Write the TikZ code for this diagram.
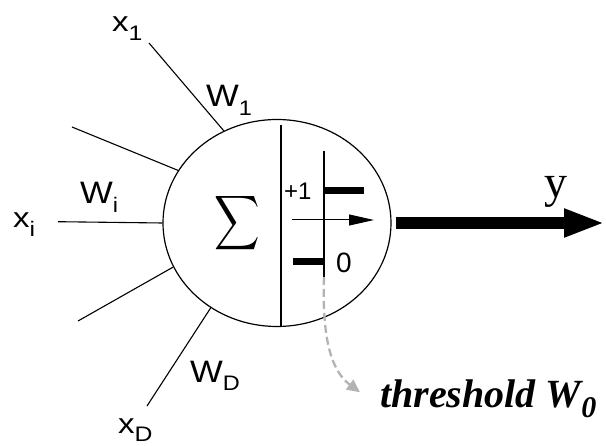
\documentclass[tikz,border=0pt]{standalone}
\usepackage{fontspec}
\setmainfont{Liberation Serif}
\setsansfont{Liberation Sans}
\usepackage{graphicx}
\definecolor{thrgray}{HTML}{B3B3B3}
\usetikzlibrary{arrows.meta, shapes.geometric}
\tikzset{
	inlbl/.style={inner sep=0pt, anchor=base west, font=\fontsize{28}{28}\selectfont\sffamily},
	wlbl/.style={inner sep=0pt, anchor=base west, font=\fontsize{31}{31}\selectfont\sffamily},
	neuronshape/.style={ellipse, draw, line width=1.2pt, inner sep=0pt,
		minimum width=228pt, minimum height=207pt},
	syn/.style={line width=1.1pt},
	stepbar/.style={line width=7pt},
	outarr/.style={-{Triangle[length=41pt,width=26pt]}, line width=11.7pt},
	thrarr/.style={-{Triangle[length=13pt,width=12pt]}, draw=thrgray, line width=2.3pt,
		dash pattern=on 8pt off 4pt}
}
% letter with lowered index, a little wider than the plain font
\newcommand{\lowidx}[4][9pt]{\scalebox{#2}[1]{#3\raisebox{-#1}{\fontsize{21}{21}\selectfont #4}}}

\begin{document}
\begin{tikzpicture}[x=1pt, y=-1pt]
	\useasboundingbox (0,0) rectangle (606,446);
	% neuron body
	\node[neuronshape] (neuron) at (277,223) {};
	\node (sigma) at (237,223.5) {\scalebox{3.15}[3.8]{$\displaystyle\sum$}};
	\coordinate (divtop) at (281,125);
	\coordinate (divbot) at (281,326);
	\draw[line width=1.1pt] (divtop) -- (divbot);
	% inputs
	\coordinate (in1) at (149,43);
	\coordinate (in2) at (72,127);
	\coordinate (ini) at (58,221.7);
	\coordinate (in4) at (78,321);
	\coordinate (inD) at (147,406);
	\draw[syn] (in1) -- (neuron.120.5);
	\draw[syn] (in2) -- (neuron.152.5);
	\draw[syn] (ini) -- (neuron.180);
	\draw[syn] (in4) -- (neuron.203);
	\draw[syn] (inD) -- (neuron.232.8);
	\node[inlbl] (x1) at (112,32) {\lowidx{1.18}{x}{1}};
	\node[inlbl] (xi) at (13,228) {\lowidx{1.18}{x}{i}};
	\node[inlbl] (xD) at (118,434) {\lowidx[8pt]{1.18}{x}{D}};
	\node[wlbl] (w1) at (206,107) {\lowidx{1.12}{W}{1}};
	\node[wlbl] (wi) at (80,204) {\lowidx{1.12}{W}{i}};
	\node[wlbl] (wD) at (190,383) {\lowidx[8pt]{1.12}{W}{D}};
	% step function
	\coordinate (axtop) at (324,151);
	\coordinate (axbot) at (324,277);
	\draw[line width=1.1pt] (axtop) -- (axbot);
	\draw[stepbar] (323,191) -- (364,191);
	\draw[stepbar] (293,262) -- (324.5,262);
	\draw[line width=1pt, -{Triangle[length=25pt,width=11pt]}] (292,220) -- (374,220);
	\node[inner sep=0pt, anchor=base west, font=\fontsize{24}{24}\selectfont\sffamily] (one) at (284,200) {+1};
	\node[inner sep=0pt, anchor=base west, font=\fontsize{28}{28}\selectfont\sffamily] (zero) at (336,273) {0};
	% output
	\coordinate (yend) at (605,223);
	\draw[outarr] ([xshift=4pt]neuron.east) -- (yend);
	\node[inner sep=0pt, anchor=base west, font=\fontsize{46}{46}\selectfont] (ylbl) at (544,198) {y};
	% threshold
	\node[inner sep=0pt, anchor=base west, font=\fontsize{40}{40}\selectfont\bfseries\itshape] (thr) at (380,408)
		{threshold W\raisebox{-10pt}{\fontsize{30}{30}\selectfont 0}};
	\draw[thrarr] (axbot) .. controls (322,335) and (330,370) .. ([xshift=-20pt,yshift=7pt]thr.west);
\end{tikzpicture}
\end{document}
